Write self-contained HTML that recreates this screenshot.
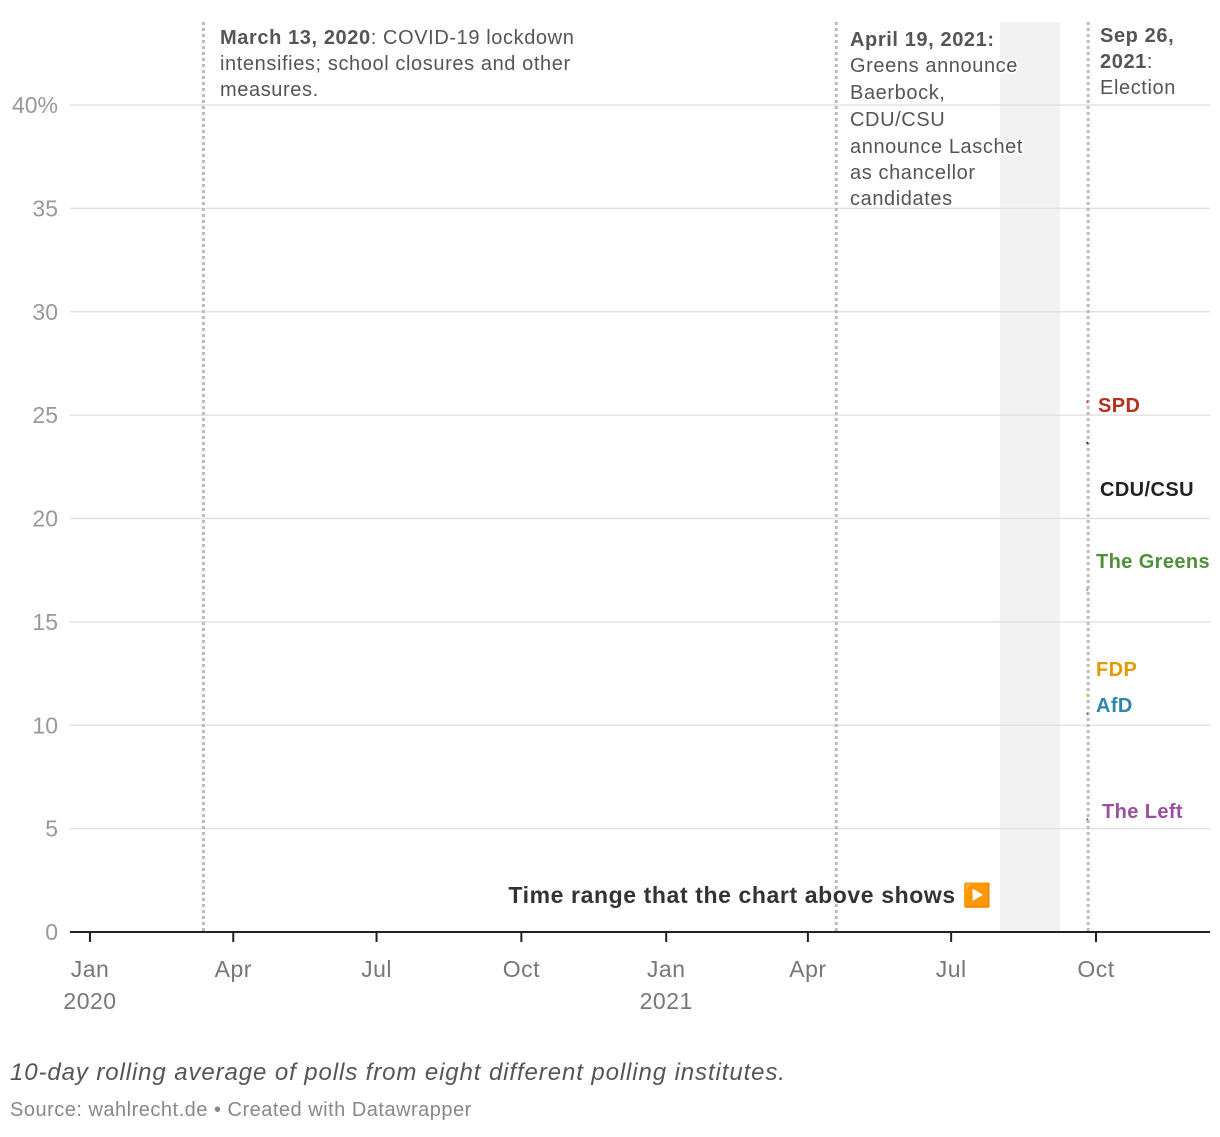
<!DOCTYPE html>
<html><head><meta charset="utf-8">
<style>
body{margin:0;background:#fff;font-family:"Liberation Sans",sans-serif;}
svg text{font-family:"Liberation Sans",sans-serif;}
</style></head>
<body>
<svg id="chart" width="1220" height="1132" xmlns="http://www.w3.org/2000/svg">
<rect id="band" y="22" height="910" fill="#f2f2f2"/>
<g id="grid"></g>
<g id="events"></g>
<g id="series"></g>
<g id="xaxis"></g>
<text x="992" y="903" text-anchor="end" font-size="23" font-weight="bold" fill="#333" letter-spacing="0.6">Time range that the chart above shows ▶️</text>
<g font-size="20" fill="#555" letter-spacing="0.6">
<text x="220" y="44"><tspan font-weight="bold">March 13, 2020</tspan>: COVID-19 lockdown</text>
<text x="220" y="70">intensifies; school closures and other</text>
<text x="220" y="96">measures.</text>
</g>
<g font-size="20" fill="#555" stroke="#fff" stroke-width="4" paint-order="stroke" letter-spacing="0.6">
<text x="850" y="46" font-weight="bold">April 19, 2021:</text>
<text x="850" y="72">Greens announce</text>
<text x="850" y="99">Baerbock,</text>
<text x="850" y="126">CDU/CSU</text>
<text x="850" y="153">announce Laschet</text>
<text x="850" y="179">as chancellor</text>
<text x="850" y="205">candidates</text>
</g>
<g font-size="20" fill="#555" letter-spacing="0.6">
<text x="1100" y="42" font-weight="bold">Sep 26,</text>
<text x="1100" y="68"><tspan font-weight="bold">2021</tspan>:</text>
<text x="1100" y="94">Election</text>
</g>
<g font-size="20" font-weight="bold" letter-spacing="0.4">
<text x="1098" y="412" fill="#b5301c">SPD</text>
<text x="1100" y="496" fill="#222">CDU/CSU</text>
<text x="1096" y="568" fill="#4f8f3a">The Greens</text>
<text x="1096" y="676" fill="#e09b00">FDP</text>
<text x="1096" y="712" fill="#2e86a8">AfD</text>
<text x="1102" y="818" fill="#9b4f9f">The Left</text>
</g>
<text x="10" y="1080" font-size="24" font-style="italic" fill="#555" letter-spacing="0.9">10-day rolling average of polls from eight different polling institutes.</text>
<text x="10" y="1116" font-size="20" fill="#888" letter-spacing="0.5">Source: wahlrecht.de • Created with Datawrapper</text>
</svg>
<script>
const yTicks=[0,5,10,15,20,25,30,35,40];
const yTickLabels=["0","5","10","15","20","25","30","35","40%"];
const xTickDays=[0,91,182,274,366,456,547,639];
const xTickLabels=[["Jan","2020"],["Apr"],["Jul"],["Oct"],["Jan","2021"],["Apr"],["Jul"],["Oct"]];
const eventDays=[72,474,634];
const bandDays=[578,616];
const parties=["spd","cdu","greens","fdp","afd","left"];
const partyColors=["#c0392b","#333","#7bb25c","#f0b400","#3a8fc0","#a05aa8"];
const latestValues=[25.7,23.6,16.5,11.4,10.5,5.5];
const prevValues=[25.6,23.7,16.6,11.5,10.6,5.4];
const ns="http://www.w3.org/2000/svg";
const x=d=>90+d*1006/639;
const y=v=>932-v*827/40;
function mk(tag,attrs,parent){const e=document.createElementNS(ns,tag);for(const k in attrs)e.setAttribute(k,attrs[k]);parent.appendChild(e);return e;}
const grid=document.getElementById('grid');
yTicks.forEach((v,i)=>{
 if(v>0){const l=mk('line',{x1:70,x2:1210,y1:y(v),y2:y(v),stroke:'#e2e2e2','stroke-width':1.5},grid);
 
 }
 const t=mk('text',{x:58,y:y(v)+8,'text-anchor':'end','font-size':23,fill:'#999'},grid);
 t.textContent=yTickLabels[i];
 
 
});
const band=document.getElementById('band');
band.setAttribute('x',x(bandDays[0]));band.setAttribute('width',x(bandDays[1])-x(bandDays[0]));
const ev=document.getElementById('events');
eventDays.forEach(d=>{
 const l=mk('line',{x1:x(d),x2:x(d),y1:22,y2:932,stroke:'#bbb','stroke-width':3,'stroke-dasharray':'3,3'},ev);
 
 
});
const ser=document.getElementById('series');
parties.forEach((p,i)=>{
 const l=mk('line',{x1:x(633),x2:x(634),y1:y(prevValues[i]),y2:y(latestValues[i]),stroke:partyColors[i],'stroke-width':1.5},ser);
 
 
});
const xa=document.getElementById('xaxis');
const ax=mk('line',{x1:70,x2:1210,y1:932,y2:932,stroke:'#222','stroke-width':2},xa);


xTickDays.forEach((d,i)=>{
 const tk=mk('line',{x1:x(d),x2:x(d),y1:932,y2:942,stroke:'#222','stroke-width':2},xa);
 
 
 xTickLabels[i].forEach((s,j)=>{
  const t=mk('text',{x:x(d),y:977+j*32,'text-anchor':'middle','font-size':23,fill:'#777','letter-spacing':0.5},xa);
  t.textContent=s;
  
  
 });
});
</script>
</body></html>
